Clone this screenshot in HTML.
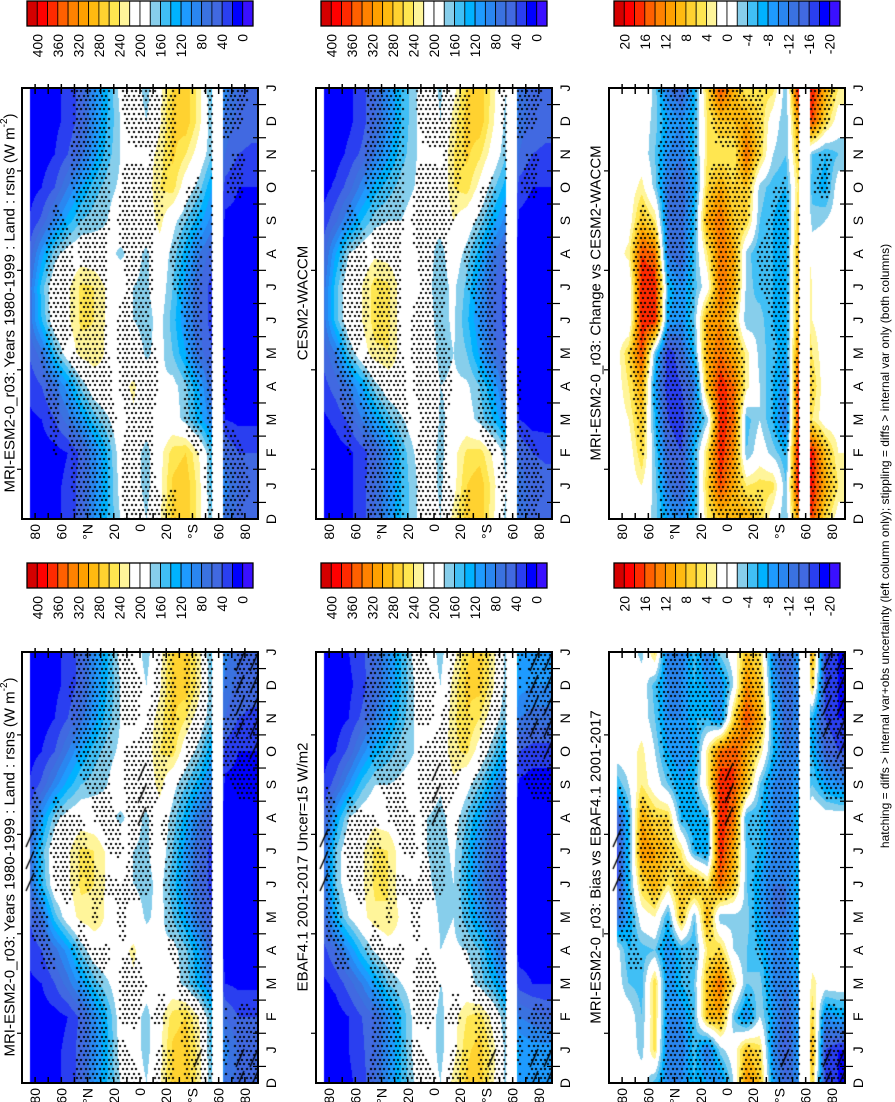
<!DOCTYPE html>
<html><head><meta charset="utf-8">
<style>
html,body{margin:0;padding:0;background:#fff;}
#wrap{position:relative;width:895px;height:1102px;overflow:hidden;font-family:"Liberation Sans",sans-serif;}
canvas{position:absolute;}
#ov{position:absolute;left:0;top:0;}
</style></head>
<body>
<div id="wrap">
<svg id="ov" width="895" height="1102" font-family="Liberation Sans, sans-serif">
<g id="titles" font-size="15" fill="#000">
<text transform="translate(10,303) rotate(-90)" text-anchor="middle" dominant-baseline="central">MRI-ESM2-0_r03: Years 1980-1999 : Land : rsns (W m<tspan baseline-shift="super" font-size="10">-2</tspan>)</text>
<text transform="translate(303,303) rotate(-90)" text-anchor="middle" dominant-baseline="central">CESM2-WACCM</text>
<text transform="translate(596,303) rotate(-90)" text-anchor="middle" dominant-baseline="central">MRI-ESM2-0_r03: Change vs CESM2-WACCM</text>
<text transform="translate(10,867) rotate(-90)" text-anchor="middle" dominant-baseline="central">MRI-ESM2-0_r03: Years 1980-1999 : Land : rsns (W m<tspan baseline-shift="super" font-size="10">-2</tspan>)</text>
<text transform="translate(303,867) rotate(-90)" text-anchor="middle" dominant-baseline="central">EBAF4.1 2001-2017 Uncer=15 W/m2</text>
<text transform="translate(596,867) rotate(-90)" text-anchor="middle" dominant-baseline="central">MRI-ESM2-0_r03: Bias vs EBAF4.1 2001-2017</text>
<text font-size="12" transform="translate(885,546) rotate(-90)" text-anchor="middle" dominant-baseline="central">hatching = diffs &gt; internal var+obs uncertainty (left column only); stippling = diffs &gt; internal var only (both columns)</text>
</g>
</svg>
</div>
<script>
const LATS=[85,75,65,55,45,35,25,15,5,-5,-15,-25,-35,-45,-55,-65,-75,-85];
const MONTH_LABELS=['D','J','F','M','A','M','J','J','A','S','O','N','D','J'];
const LAT_TICK_LABELS=['80','60','°N','20','0','20','°S','60','80'];
const LAT_TICK_VALUES=[80,60,40,20,0,-20,-40,-60,-80];
const CLIM_CB_LABELS=['400','360','320','280','240','200','160','120','80','40','0'];
const DIFF_CB_LABELS=['20','16','12','8','4','0','-4','-8','-12','-16','-20'];
// rows = Jan..Dec, columns = LATS
const mriClim=[
[10,10,15,25,50,95,135,190,195,170,210,265,275,230,150,90,60,55],
[10,10,12,20,45,95,140,195,195,170,210,250,260,220,150,60,40,40],
[15,20,40,70,110,150,175,205,215,195,185,195,170,130,90,20,15,15],
[25,40,70,110,165,200,210,210,225,200,180,190,165,120,60,10,10,10],
[40,70,150,200,230,235,215,205,200,175,190,160,120,70,40,10,10,10],
[60,140,205,215,245,240,215,200,180,170,190,150,100,60,30,10,10,10],
[60,150,205,215,245,240,215,200,180,175,200,160,110,60,30,10,10,10],
[40,110,170,195,205,200,190,175,190,175,205,170,130,80,50,10,10,10],
[20,45,90,130,160,170,180,200,180,200,230,190,160,130,90,15,15,15],
[10,20,40,80,120,150,170,185,190,205,240,250,200,170,120,30,20,20],
[10,10,20,40,70,110,150,180,200,205,230,265,240,205,160,60,40,35],
[10,10,15,25,50,100,140,180,200,180,215,265,275,230,160,70,55,50]];
const cesmClim=[
[10,10,15,30,60,100,140,175,195,175,210,260,275,230,180,70,55,50],
[10,10,15,30,55,100,145,180,200,170,210,245,250,215,170,60,40,35],
[15,25,45,80,115,150,175,200,215,175,190,195,170,140,100,20,10,10],
[30,50,80,120,170,200,210,200,210,180,185,185,160,120,60,10,10,10],
[45,80,160,205,235,240,210,200,200,170,180,160,115,70,40,10,10,10],
[60,150,205,220,250,245,210,200,190,170,185,145,100,60,30,10,10,10],
[60,150,205,220,250,245,210,200,185,170,185,155,105,60,30,10,10,10],
[45,120,180,200,215,210,200,185,190,170,200,170,130,80,50,10,10,10],
[25,55,100,140,170,180,180,190,180,190,220,200,170,130,90,15,10,10],
[10,25,50,90,130,150,170,180,200,195,240,250,210,165,130,30,20,20],
[10,10,25,45,80,115,150,175,200,195,240,265,245,205,160,60,40,35],
[10,10,15,30,60,100,140,175,200,180,230,270,275,225,170,70,55,50]];
const ebafClim=[
[10,10,20,35,60,100,140,190,200,170,210,255,270,230,170,120,110,110],
[10,10,20,40,60,100,140,190,200,170,210,240,250,210,160,80,70,60],
[15,25,50,80,120,160,180,200,210,180,190,195,170,140,100,30,20,20],
[30,60,100,150,185,205,210,210,220,180,185,180,160,110,60,10,10,10],
[50,130,180,210,235,240,215,205,200,175,180,150,110,70,40,10,10,10],
[60,160,205,215,245,240,205,200,185,170,180,140,90,50,30,10,10,10],
[60,160,205,215,245,240,205,195,180,170,185,145,95,55,30,10,10,10],
[40,120,180,200,210,205,200,185,180,170,195,160,120,70,40,10,10,10],
[20,50,100,150,180,180,185,190,200,185,215,190,160,120,80,15,10,10],
[10,20,45,90,130,150,170,180,200,200,235,245,205,165,120,40,30,30],
[10,10,20,45,80,115,150,180,200,195,235,260,240,200,160,80,70,70],
[10,10,15,30,60,100,140,180,200,180,230,265,270,225,170,110,100,100]];
const changeDiff=[
[0,0,2,-3,-12,-15,-7,6,16,10,4,5,5,-4,20,18,10,4],
[0,0,6,-4,-14,-16,-6,5,18,12,-4,0,-3,-6,20,18,8,2],
[0,2,8,-6,-16,-18,-10,-3,18,14,-5,-2,-6,-12,18,4,0,0],
[0,4,10,-8,-18,-16,-12,8,18,14,3,-2,-6,-10,18,6,0,0],
[0,6,16,-4,-18,-14,-6,10,14,10,3,-3,-5,-8,14,4,0,0],
[0,-2,18,18,-8,-10,-4,10,12,6,-4,-3,-6,-8,10,2,0,0],
[0,-2,18,18,-6,-10,-5,0,14,10,-3,-5,-6,-8,10,2,0,0],
[0,3,16,14,-12,-14,-5,4,14,10,-3,-6,-6,-8,10,0,0,0],
[0,0,8,4,-12,-14,-6,10,14,8,6,-4,-6,-8,8,-3,-2,0],
[0,0,3,-3,-12,-14,-8,6,10,6,8,-3,-5,-6,5,-5,-7,0],
[0,0,0,-4,-10,-12,-6,4,4,4,14,6,-2,-4,8,-4,-6,-4],
[0,0,0,-3,-8,-10,-6,4,8,8,10,6,0,-4,12,16,6,0]];
const biasDiff=[
[0,0,-3,5,-12,-12,-5,-12,-3,0,8,5,-10,-16,-8,10,-16,-18],
[0,0,-4,5,-10,-10,-5,8,10,-4,-10,-2,-8,-14,-8,6,-10,-8],
[0,-4,-5,6,-10,-6,-4,8,14,4,-4,-3,-10,-12,-8,3,0,0],
[0,-6,-5,-4,-10,-6,-6,4,6,-2,-4,-6,-10,-10,-6,0,0,0],
[-14,-8,0,2,-6,8,-4,10,-4,-3,-3,-8,-12,-12,-6,0,0,0],
[-18,-6,6,10,4,8,10,5,14,8,-4,-8,-12,-12,-6,0,0,0],
[-18,-6,12,10,8,4,-6,-8,18,10,-4,-6,-10,-12,-6,0,0,0],
[-16,-6,10,6,6,-6,-8,-6,18,14,-6,-6,-10,-12,-6,2,0,0],
[-6,-2,4,0,-4,-8,-6,3,18,16,8,-4,-10,-12,-8,-4,-8,-10],
[0,0,3,-2,-8,-10,-8,3,14,16,10,4,-6,-12,-10,-6,-14,-16],
[0,0,0,-4,-10,-10,-6,-6,-10,6,16,10,-6,-14,-10,-6,-16,-18],
[0,0,0,-5,-10,-10,-6,-8,-10,-2,12,8,-8,-14,-10,6,-16,-18]];

const COLORS=['#d40000','#ff0000','#ff2a00','#ff6000','#ff8200','#ffa000','#ffba10','#ffd230','#ffe650','#fff59a','#ffffff','#ffffff','#87ceeb','#40bff5','#00b2ff','#1e9bff','#2a86f0','#3a72e0','#4169e1','#2a3ff0','#0000ff','#3a10ff'];
const RGB=COLORS.map(h=>[parseInt(h.substr(1,2),16),parseInt(h.substr(3,2),16),parseInt(h.substr(5,2),16)]);
const COLS=[22,316,609], W=236;
const ROWS=[88,652], H=431;
const CB_TOP=[1,563];
const NS='http://www.w3.org/2000/svg';
const svg=document.getElementById('ov');
const wrap=document.getElementById('wrap');

function latToX(left,lat){return left+(90-lat)/180*W;}
function tToY(top,t){return top+H-t*(H/13);}
function sample(data,lat,t){
  let li=(85-lat)/10; li=Math.max(0,Math.min(17,li));
  const l0=Math.min(16,Math.floor(li)), g=li-l0;
  const t0=Math.floor(t), f=t-t0;
  const mi=k=>((k-1)%12+12)%12;
  const a=data[mi(t0)], b=data[mi(t0+1)];
  const va=a[l0]*(1-g)+a[l0+1]*g, vb=b[l0]*(1-g)+b[l0+1]*g;
  return va*(1-f)+vb*f;
}
function level(v){ if(v>400) return 0; let k=Math.floor((400-v)/20)+1; return Math.max(1,Math.min(21,k)); }
function masked(lat){ return lat>84 || (lat<-55 && lat>-63); }

const panels=[
 {name:'panel-mri-clim-top',data:mriClim,diff:changeDiff,col:0,row:0,isDiff:false,hatch:false},
 {name:'panel-cesm-clim',data:cesmClim,diff:changeDiff,col:1,row:0,isDiff:false,hatch:false},
 {name:'panel-change-diff',data:changeDiff,diff:changeDiff,col:2,row:0,isDiff:true,hatch:false},
 {name:'panel-mri-clim-bottom',data:mriClim,diff:biasDiff,col:0,row:1,isDiff:false,hatch:true},
 {name:'panel-ebaf-clim',data:ebafClim,diff:biasDiff,col:1,row:1,isDiff:false,hatch:true},
 {name:'panel-bias-diff',data:biasDiff,diff:biasDiff,col:2,row:1,isDiff:true,hatch:true}];

function mk(tag,attrs,parent){const e=document.createElementNS(NS,tag);for(const k in attrs)e.setAttribute(k,attrs[k]);(parent||svg).appendChild(e);return e;}

panels.forEach(p=>{
  const left=COLS[p.col], top=ROWS[p.row];
  const cv=document.createElement('canvas');
  
  
  cv.width=W; cv.height=H; cv.style.left=left+'px'; cv.style.top=top+'px';
  wrap.insertBefore(cv,svg);
  const ctx=cv.getContext('2d');
  const img=ctx.createImageData(W,H);
  for(let y=0;y<H;y++){
    const t=(H-y-0.5)/(H/13);
    for(let x=0;x<W;x++){
      const lat=90-(x+0.5)/W*180;
      let c=[255,255,255];
      if(!masked(lat)){
        let v=sample(p.data,lat,t);
        if(p.isDiff) v=200+v*10;
        c=RGB[level(v)];
      }
      const i=(y*W+x)*4; img.data[i]=c[0];img.data[i+1]=c[1];img.data[i+2]=c[2];img.data[i+3]=255;
    }
  }
  ctx.putImageData(img,0,0);
  // stippling
  ctx.fillStyle='#000';
  let r=0;
  for(let y=2;y<H;y+=4.6,r++){
    const t=(H-y)/(H/13);
    for(let x=(r%2?2.3:0)+3;x<W;x+=4.6){
      const lat=90-x/W*180;
      if(masked(lat)) continue;
      const d=sample(p.diff,lat,t);
      if(Math.abs(d)>5) ctx.fillRect(Math.round(x),Math.round(y),2,2);
    }
  }
  if(p.hatch){
    ctx.strokeStyle='#000'; ctx.lineWidth=1.4;
    for(let y=10;y<H;y+=22){
      const t=(H-y)/(H/13);
      for(let x=8;x<W;x+=14){
        const lat=90-x/W*180;
        if(masked(lat)) continue;
        const d=sample(biasDiff,lat,t);
        if(Math.abs(d)>15){ctx.beginPath();ctx.moveTo(x-4,y+9);ctx.lineTo(x+4,y-9);ctx.stroke();}
      }
    }
  }
  // frame
  const g=mk('g',{});
  
  
  mk('rect',{x:left,y:top,width:W,height:H,fill:'none',stroke:'#000','stroke-width':2},g);
  for(let lat=80;lat>=-80;lat-=10){
    const x=latToX(left,lat);
    mk('line',{x1:x,y1:top-4,x2:x,y2:top+6,stroke:'#000','stroke-width':1.5},g);
    mk('line',{x1:x,y1:top+H-6,x2:x,y2:top+H,stroke:'#000','stroke-width':1.5},g);
  }
  for(let k=0;k<13;k++){
    const y=tToY(top,k+0.5);
    mk('line',{x1:left+W-5,y1:y,x2:left+W+8,y2:y,stroke:'#000','stroke-width':1.2},g);
  }
  for(let k=1;k<13;k+=3){
    const y=tToY(top,k+0.5);
    mk('line',{x1:left-5,y1:y,x2:left,y2:y,stroke:'#000','stroke-width':1.2},g);
  }
  MONTH_LABELS.forEach((m,k)=>{
    const tx=mk('text',{transform:`translate(${left+W+13},${tToY(top,k)}) rotate(-90)`,'text-anchor':'middle','dominant-baseline':'central','font-size':14},g);
    
    
    tx.textContent=m;
  });
  LAT_TICK_VALUES.forEach((lv,k)=>{
    const tx=mk('text',{transform:`translate(${latToX(left,lv)},${top+H+5}) rotate(-90)`,'text-anchor':'end','dominant-baseline':'central','font-size':14},g);
    
    
    tx.textContent=LAT_TICK_LABELS[k];
  });
  // colorbar
  const cb=mk('g',{});
  
  
  const cl=left+5, cw=226, bw=cw/22, ct=CB_TOP[p.row];
  COLORS.forEach((c,i)=>{
    mk('rect',{x:cl+i*bw,y:ct,width:bw,height:25,fill:c,stroke:'#000','stroke-width':0.8},cb);
  });
  mk('rect',{x:cl,y:ct,width:cw,height:25,fill:'none',stroke:'#000','stroke-width':1.3},cb);
  const labs=p.isDiff?DIFF_CB_LABELS:CLIM_CB_LABELS;
  labs.forEach((s,i)=>{
    const tx=mk('text',{transform:`translate(${cl+bw*(1+2*i)},${ct+33}) rotate(-90)`,'text-anchor':'end','dominant-baseline':'central','font-size':14},cb);
    
    
    tx.textContent=s;
  });
});
</script>
</body></html>
